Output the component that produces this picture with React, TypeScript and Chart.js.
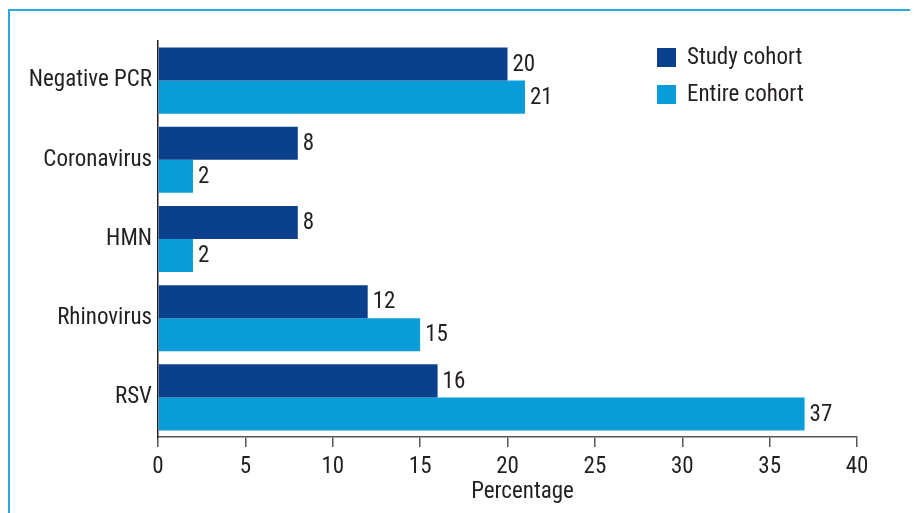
import React, { useEffect, useRef } from "react";
import { Chart, registerables } from "chart.js";

Chart.register(...registerables);

const categories = ["Negative PCR", "Coronavirus", "HMN", "Rhinovirus", "RSV"];
const studyCohort = [20, 8, 8, 12, 16];
const entireCohort = [21, 2, 2, 15, 37];
const seriesLabels = ["Study cohort", "Entire cohort"];
const xTicks = [0, 5, 10, 15, 20, 25, 30, 35, 40];
const axisTitle = "Percentage";

const FONT = "'Roboto Condensed', 'Roboto', sans-serif";
const FS = 23;
const TEXT = "#231f20";
const DARK = "#0b418c";
const LIGHT = "#089dd9";

const W = 908;
const H = 502;

const valueLabels = {
  id: "valueLabels",
  afterDatasetsDraw(chart: any) {
    const ctx = chart.ctx;
    ctx.save();
    ctx.font = `${FS}px ${FONT}`;
    ctx.fillStyle = TEXT;
    ctx.textAlign = "left";
    ctx.textBaseline = "middle";
    chart.data.datasets.forEach((ds: any, di: number) => {
      const meta = chart.getDatasetMeta(di);
      meta.data.forEach((bar: any, i: number) => {
        ctx.fillText(String(ds.data[i]), bar.x + 5, bar.y + 1);
      });
    });
    ctx.restore();
  },
};

const customLegend = {
  id: "customLegend",
  afterDraw(chart: any) {
    const ctx = chart.ctx;
    const area = chart.chartArea;
    ctx.save();
    ctx.font = `${FS}px ${FONT}`;
    ctx.textAlign = "left";
    ctx.textBaseline = "middle";
    chart.data.datasets.forEach((ds: any, i: number) => {
      const x = area.left + 499;
      const y = area.top + 7 + i * 37;
      ctx.fillStyle = ds.backgroundColor;
      ctx.fillRect(x, y, 19, 19);
      ctx.fillStyle = TEXT;
      ctx.fillText(ds.label, x + 30, y + 10);
    });
    // axis title, slightly right of the axis centre as in the reference
    ctx.textAlign = "center";
    ctx.fillText(axisTitle, (area.left + area.right) / 2 + 15, H - 21);
    ctx.restore();
  },
};

export default function App() {
  const ref = useRef<HTMLCanvasElement>(null);
  useEffect(() => {
    if (!ref.current) return;
    const chart = new Chart(ref.current, {
      type: "bar",
      data: {
        labels: categories,
        datasets: [
          { label: seriesLabels[0], data: studyCohort, backgroundColor: DARK },
          { label: seriesLabels[1], data: entireCohort, backgroundColor: LIGHT },
        ],
      },
      options: {
        indexAxis: "y",
        responsive: false,
        animation: false,
        datasets: { bar: { categoryPercentage: 0.834, barPercentage: 1.0 } },
        layout: { padding: { top: 30, right: 61, left: 0, bottom: 0 } },
        plugins: {
          legend: { display: false },
          tooltip: { enabled: false },
        },
        scales: {
          x: {
            min: 0,
            max: 40,
            afterBuildTicks: (scale: any) => {
              scale.ticks = xTicks.map((v) => ({ value: v }));
            },
            afterFit: (scale: any) => {
              scale.height = H - 426;
            },
            grid: { drawOnChartArea: false, drawTicks: true, tickLength: 10, color: "#555", lineWidth: 1.5 },
            border: { display: true, color: "#555", width: 1.5 },
            ticks: { color: TEXT, font: { family: FONT, size: FS }, padding: 6 },
            title: { display: false },
          },
          y: {
            afterFit: (scale: any) => {
              scale.width = 148;
            },
            grid: { display: false, drawTicks: false },
            border: { display: true, color: TEXT, width: 1.5 },
            ticks: { color: TEXT, font: { family: FONT, size: FS }, padding: 6 },
          },
        },
      },
      plugins: [valueLabels, customLegend],
    } as any);
    return () => chart.destroy();
  }, []);
  return (
    <div
      style={{
        marginTop: 1,
        width: W,
        height: H,
        borderLeft: "2px solid #29abe2",
        borderTop: "2px solid #29abe2",
      }}
    >
      <canvas ref={ref} width={W} height={H} style={{ display: "block" }} />
    </div>
  );
}
